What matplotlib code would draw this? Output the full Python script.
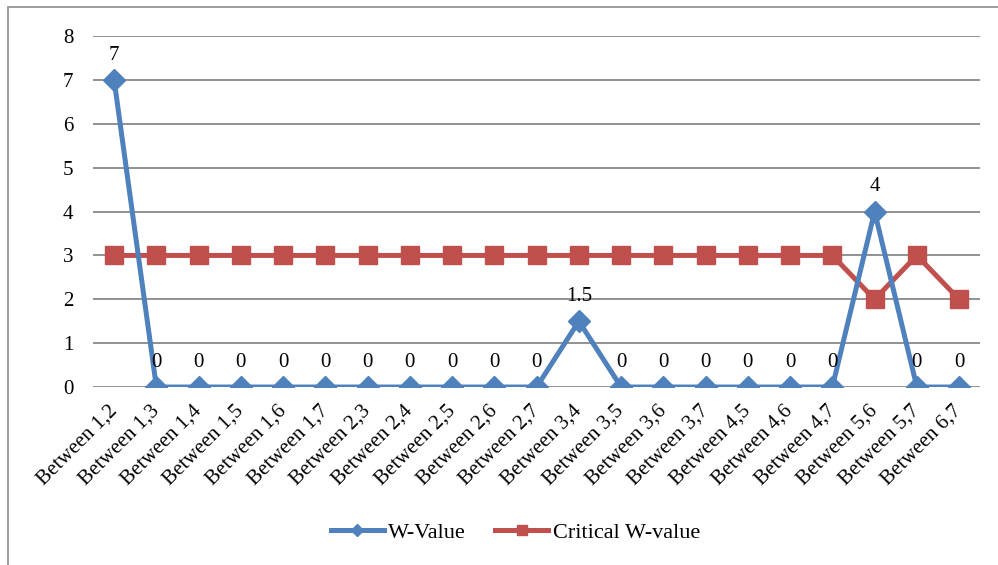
import matplotlib.pyplot as plt
from matplotlib.patches import Rectangle

plt.rcParams['font.family'] = ['Liberation Serif', 'DejaVu Serif']

pairs = ["Between 1,2", "Between 1,3", "Between 1,4", "Between 1,5", "Between 1,6",
         "Between 1,7", "Between 2,3", "Between 2,4", "Between 2,5", "Between 2,6",
         "Between 2,7", "Between 3,4", "Between 3,5", "Between 3,6", "Between 3,7",
         "Between 4,5", "Between 4,6", "Between 4,7", "Between 5,6", "Between 5,7",
         "Between 6,7"]
w_value = [7, 0, 0, 0, 0, 0, 0, 0, 0, 0, 0, 1.5, 0, 0, 0, 0, 0, 0, 4, 0, 0]
critical_w = [3, 3, 3, 3, 3, 3, 3, 3, 3, 3, 3, 3, 3, 3, 3, 3, 3, 3, 2, 3, 2]

blue = "#4F81BD"
red = "#C0504D"

fig = plt.figure(figsize=(9.98, 5.65), dpi=100)
ax = fig.add_axes([0.0932, 0.315, 0.889, 0.621])

x = list(range(len(pairs)))
ax.plot(x, w_value, color=blue, lw=3.6, marker="D", ms=11.5, label="W-Value", zorder=3)
ax.plot(x, critical_w, color=red, lw=3.6, marker="s", ms=13, label="Critical W-value", zorder=2)

for xi, v in zip(x, w_value):
    ax.annotate(f"{v:g}", (xi, v), xytext=(0, 18), textcoords="offset points",
                ha="center", va="center", fontsize=15, zorder=4)

ax.set_xlim(-0.5, len(pairs) - 0.5)
ax.set_ylim(0, 8)
ax.set_yticks(range(9))
ax.yaxis.grid(True, color="#898989", lw=1.3)
ax.set_axisbelow(True)
for s in ax.spines.values():
    s.set_visible(False)
ax.tick_params(axis="both", length=0, labelsize=15)
ax.tick_params(axis="y", pad=14)
ax.set_xticks(x)
ax.set_xticklabels(pairs, rotation=45, ha="right", va="center", rotation_mode="anchor")
ax.tick_params(axis="x", pad=15)

ax.legend(loc="center", bbox_to_anchor=(0.476, -0.416), bbox_transform=ax.transAxes,
          ncol=2, frameon=False, fontsize=16, handlelength=2.4, columnspacing=1.3,
          handletextpad=0.2, markerscale=0.55)

# outer chart border
fig.patches.append(Rectangle((8 / 998, -0.1), 1.2, 1 - 7 / 565 + 0.1,
                             transform=fig.transFigure, fill=False,
                             edgecolor="#8c8c8c", lw=1.2))

fig.savefig("out.png", dpi=100)
